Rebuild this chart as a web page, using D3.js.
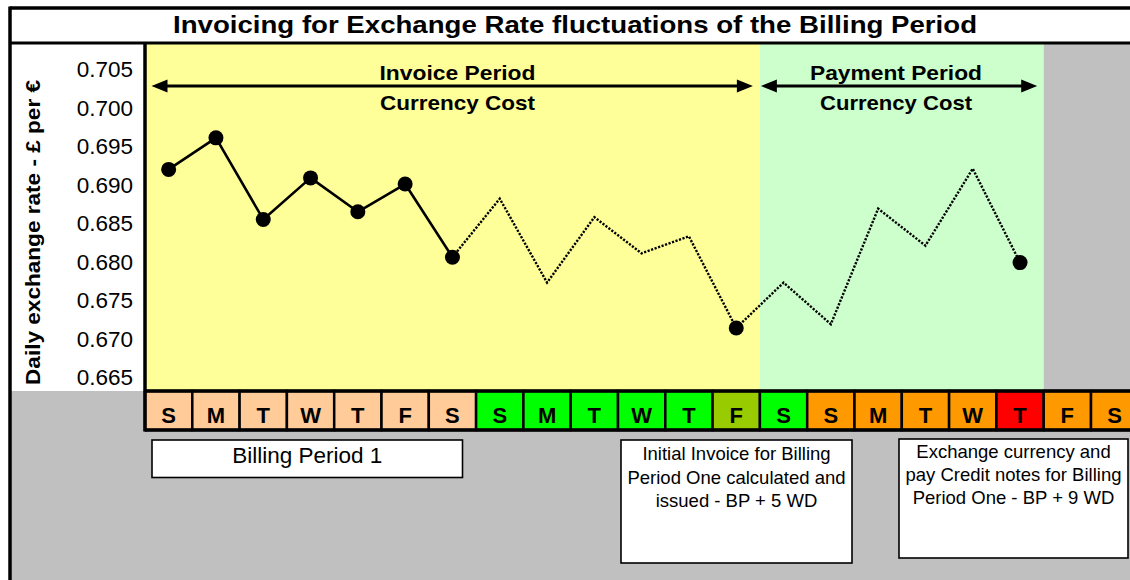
<!DOCTYPE html>
<html>
<head>
<meta charset="utf-8">
<script src="https://cdn.jsdelivr.net/npm/d3@7"></script>
<style>
  html, body { margin: 0; padding: 0; background: #ffffff; }
  svg { display: block; font-family: "Liberation Sans", Arial, sans-serif; }
</style>
</head>
<body>
<svg id="chart" width="1130" height="580"></svg>
<script>
// ---------------- data ----------------
const title = "Invoicing for Exchange Rate fluctuations of the Billing Period";
const yAxisTitle = "Daily exchange rate - \u00A3 per \u20AC";
const days = ["S","M","T","W","T","F","S","S","M","T","W","T","F","S","S","M","T","W","T","F","S"];
const dayStatus = ["bp","bp","bp","bp","bp","bp","bp",
                   "wd","wd","wd","wd","wd","inv","wd",
                   "pp","pp","pp","pp","pay","pp","pp"];
const rates = [0.6920, 0.6961, 0.6855, 0.6909, 0.6865, 0.6901, 0.6806,
               0.6882, 0.6773, 0.6858, 0.6811, 0.6833, 0.6714,
               0.6773, 0.6719, 0.6869, 0.6821, 0.6921, 0.6799];
const markerIdx = [0, 1, 2, 3, 4, 5, 6, 12, 18];
const solidEnd = 6;          // solid line covers the billing period
const invoiceEnd = 12;       // last day of invoice period
const paymentEnd = 18;       // last day of payment period
const yTicks = [0.665, 0.670, 0.675, 0.680, 0.685, 0.690, 0.695, 0.700, 0.705];
const periodLabels = [["Invoice Period", "Currency Cost"], ["Payment Period", "Currency Cost"]];
const noteBP = ["Billing Period 1"];
const noteInvoice = ["Initial Invoice for Billing", "Period One calculated and", "issued - BP + 5 WD"];
const notePay = ["Exchange currency and", "pay Credit notes for Billing", "Period One - BP + 9 WD"];

// ---------------- styles ----------------
const statusColor = { bp: "#FFCC99", wd: "#00FF00", inv: "#99CC00", pp: "#FF9900", pay: "#FF0000" };
const C = { yellow: "#FFFF99", green: "#CCFFCC", gray: "#C0C0C0" };

// ---------------- layout ----------------
const W = 1130, H = 580;
const frameL = 10, frameT = 8, titleB = 43;
const plotL = 145, plotT = 43, plotB = 391;
const stripT = 391, stripB = 430;
const cellW = 47.3;

const svg = d3.select("#chart");

const x = d3.scaleBand().domain(d3.range(days.length))
  .range([plotL, plotL + cellW * days.length]).padding(0);
const cx = i => x(i) + x.bandwidth() / 2;
const y = d3.scaleLinear().domain([0.66335, 0.70842]).range([390, plotT]);

// backgrounds
svg.append("rect").attr("x", 0).attr("y", 0).attr("width", W).attr("height", H).attr("fill", "#fff");
svg.append("rect").attr("x", frameL).attr("y", stripT).attr("width", W - frameL).attr("height", H - stripT).attr("fill", C.gray);
const invX1 = x(invoiceEnd) + x.bandwidth();
const payX1 = x(paymentEnd) + x.bandwidth();
svg.append("rect").attr("x", plotL).attr("y", plotT).attr("width", invX1 - plotL).attr("height", plotB - plotT).attr("fill", C.yellow);
svg.append("rect").attr("x", invX1).attr("y", plotT).attr("width", payX1 - invX1).attr("height", plotB - plotT).attr("fill", C.green);
svg.append("rect").attr("x", payX1).attr("y", plotT).attr("width", W - payX1).attr("height", plotB - plotT).attr("fill", C.gray);

// title
svg.append("text").attr("x", 575).attr("y", 32.5).attr("text-anchor", "middle")
  .attr("font-size", 24).attr("font-weight", "bold")
  .attr("textLength", 804).attr("lengthAdjust", "spacingAndGlyphs").text(title);

// y axis
const yAxis = d3.axisLeft(y).tickValues(yTicks).tickSize(0).tickPadding(12).tickFormat(d3.format(".3f"));
const gy = svg.append("g").attr("transform", `translate(${plotL},0)`).call(yAxis);
gy.select(".domain").remove();
gy.selectAll("text").attr("font-size", 22.5).attr("font-family", "Liberation Sans, Arial, sans-serif").attr("fill", "#000");

svg.append("text").attr("transform", `translate(40,${232.5}) rotate(-90)`)
  .attr("text-anchor", "middle").attr("font-size", 20.5).attr("font-weight", "bold")
  .attr("textLength", 305).attr("lengthAdjust", "spacingAndGlyphs").text(yAxisTitle);

// period arrows + labels
const arrows = [
  { x0: x(0) + 6.5, x1: invX1 - 7, cx: 457.5, w: [156, 155] },
  { x0: invX1 + 1, x1: payX1 - 6.5, cx: 896, w: [172, 152] }
];
function arrowHead(xTip, yy, dir) {
  const L = 16, h = 6.5;
  return `M${xTip},${yy} L${xTip - dir * L},${yy - h} L${xTip - dir * L},${yy + h} Z`;
}
arrows.forEach((a, k) => {
  svg.append("line").attr("x1", a.x0 + 10).attr("x2", a.x1 - 10).attr("y1", 86).attr("y2", 86)
    .attr("stroke", "#000").attr("stroke-width", 3);
  svg.append("path").attr("d", arrowHead(a.x0, 86, -1)).attr("fill", "#000");
  svg.append("path").attr("d", arrowHead(a.x1, 86, 1)).attr("fill", "#000");
  [80, 110].forEach((yy, j) => {
    svg.append("text").attr("x", a.cx).attr("y", yy).attr("text-anchor", "middle")
      .attr("font-size", 21).attr("font-weight", "bold")
      .attr("textLength", a.w[j]).attr("lengthAdjust", "spacingAndGlyphs").text(periodLabels[k][j]);
  });
});

// line: solid part and dotted part
const pts = rates.map((v, i) => ({ i, v }));
const lineGen = d3.line().x(d => cx(d.i)).y(d => y(d.v));
svg.append("path").datum(pts.slice(0, solidEnd + 1)).attr("d", lineGen)
  .attr("fill", "none").attr("stroke", "#000").attr("stroke-width", 2.6).attr("stroke-linejoin", "round");
svg.append("path").datum(pts.slice(solidEnd)).attr("d", lineGen)
  .attr("fill", "none").attr("stroke", "#000").attr("stroke-width", 2.4).attr("stroke-dasharray", "2.2,1.5");
svg.selectAll("circle.mk").data(markerIdx.map(i => pts[i])).join("circle")
  .attr("class", "mk").attr("cx", d => cx(d.i)).attr("cy", d => y(d.v)).attr("r", 7.5).attr("fill", "#000");

// day strip
const cells = svg.append("g");
cells.selectAll("rect").data(days).join("rect")
  .attr("x", (d, i) => x(i)).attr("y", stripT).attr("width", x.bandwidth()).attr("height", stripB - stripT)
  .attr("fill", (d, i) => statusColor[dayStatus[i]]).attr("stroke", "#000").attr("stroke-width", 2.5);
cells.selectAll("text").data(days).join("text")
  .attr("x", (d, i) => cx(i)).attr("y", 423).attr("text-anchor", "middle")
  .attr("font-size", 22).attr("font-weight", "bold").text(d => d);
svg.append("line").attr("x1", plotL).attr("x2", W).attr("y1", stripT).attr("y2", stripT).attr("stroke", "#000").attr("stroke-width", 3.5);
svg.append("line").attr("x1", plotL).attr("x2", W).attr("y1", stripB).attr("y2", stripB).attr("stroke", "#000").attr("stroke-width", 3.5);

// frame lines
svg.append("line").attr("x1", frameL).attr("x2", W).attr("y1", frameT).attr("y2", frameT).attr("stroke", "#000").attr("stroke-width", 3.5);
svg.append("line").attr("x1", frameL).attr("x2", W).attr("y1", titleB).attr("y2", titleB).attr("stroke", "#000").attr("stroke-width", 3);
svg.append("line").attr("x1", frameL).attr("x2", frameL).attr("y1", frameT - 1.5).attr("y2", H).attr("stroke", "#000").attr("stroke-width", 3.5);
svg.append("line").attr("x1", plotL).attr("x2", plotL).attr("y1", titleB).attr("y2", stripB + 1.5).attr("stroke", "#000").attr("stroke-width", 3.5);

// note boxes
function note(x0, y0, w, h, lines, fs, firstBase, lh) {
  svg.append("rect").attr("x", x0).attr("y", y0).attr("width", w).attr("height", h)
    .attr("fill", "#fff").attr("stroke", "#000").attr("stroke-width", 1.6);
  lines.forEach((t, k) => {
    svg.append("text").attr("x", x0 + w / 2).attr("y", firstBase + k * lh).attr("text-anchor", "middle")
      .attr("font-size", fs).text(t);
  });
}
note(152, 440, 310.5, 37.5, noteBP, 22.5, 463, 0);
note(621, 440, 231, 123, noteInvoice, 18.5, 460, 23.5);
note(899, 439, 229, 119, notePay, 18.5, 457.5, 23);
</script>
</body>
</html>
